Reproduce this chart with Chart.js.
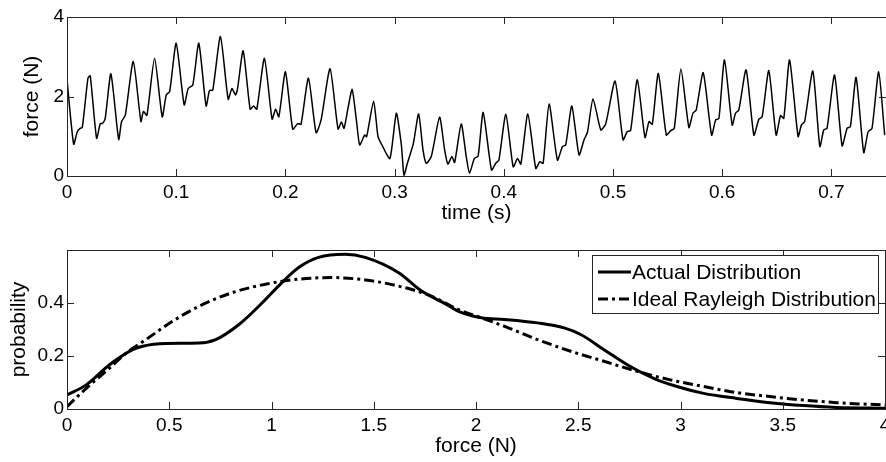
<!DOCTYPE html>
<html lang="en">
<head>
<meta charset="UTF-8">
<title>force signal and distribution</title>
<script src="https://cdn.jsdelivr.net/npm/chart.js"></script>
<style>
    html, body { margin: 0; padding: 0; background: #fff; overflow: hidden; }
    canvas { display: block; }
</style>
</head>
<body>
<canvas id="grafTempo" width="886" height="232"></canvas>
<canvas id="grafDist" width="886" height="230"></canvas>

<script>
// top plot: force over time (peaks/troughs/shoulders)
var timeS = [0, 0.0061, 0.0095, 0.012, 0.014, 0.0192, 0.0213, 0.0271, 0.0305, 0.0325, 0.035, 0.0402,
    0.0473, 0.050, 0.0534, 0.0607, 0.0677, 0.070, 0.0732, 0.0802, 0.0872, 0.0909, 0.094, 0.100,
    0.1073, 0.111, 0.1152, 0.1207, 0.1274, 0.1305, 0.1335, 0.1405, 0.1476, 0.151, 0.1543, 0.1562, 0.1613,
    0.1677, 0.1708, 0.1738, 0.1808, 0.1878, 0.191, 0.194, 0.200, 0.2067, 0.2113, 0.2143, 0.2211,
    0.2281, 0.2327, 0.2409, 0.2482, 0.2513, 0.2537, 0.2573, 0.2611, 0.265, 0.268, 0.2726, 0.2744, 0.2808,
    0.2848, 0.2884, 0.2957, 0.3016, 0.3062, 0.3086, 0.3117, 0.3172, 0.322, 0.326, 0.329, 0.3336, 0.3412,
    0.3458, 0.3488, 0.3525, 0.355, 0.361, 0.3656, 0.3686, 0.373, 0.3765, 0.3811, 0.3887, 0.3926, 0.3955,
    0.4019, 0.4086, 0.4126, 0.4156, 0.422, 0.4293, 0.433, 0.436, 0.4415, 0.4491, 0.4537, 0.4567, 0.4623,
    0.4689, 0.4735, 0.4766, 0.4817, 0.4888, 0.4933, 0.5019, 0.5092, 0.5131, 0.5161, 0.5223, 0.5293,
    0.533, 0.536, 0.5415, 0.5488, 0.5528, 0.5561, 0.5622, 0.5695, 0.5732, 0.5762, 0.5826, 0.5903,
    0.594, 0.597, 0.6021, 0.6091, 0.6122, 0.6152, 0.6219, 0.629, 0.6336, 0.6366, 0.6427, 0.6494,
    0.6534, 0.6564, 0.6617, 0.6695, 0.6725, 0.6755, 0.683, 0.6894, 0.693, 0.696, 0.7029, 0.7098,
    0.7144, 0.7174, 0.7226, 0.7296, 0.7336, 0.7372, 0.7433, 0.7488]
var forceN = [2.42, 0.80, 1.12, 1.20, 1.22, 2.46, 2.52, 0.95, 1.32, 1.32, 1.45, 2.57,
    0.92, 1.37, 1.53, 2.88, 1.37, 1.62, 1.53, 2.96, 1.49, 2.04, 2.12, 3.34,
    1.79, 2.20, 2.29, 3.34, 1.76, 2.15, 2.16, 3.51, 1.93, 2.20, 2.04, 2.20, 3.15,
    1.68, 1.76, 1.68, 2.96, 1.43, 1.68, 1.49, 2.62, 1.18, 1.32, 1.30, 2.46,
    1.09, 1.41, 2.70, 1.18, 1.36, 1.20, 1.70, 2.18, 1.41, 0.78, 1.03, 0.99, 1.88,
    0.99, 0.78, 0.44, 1.58, 0.78, 0.02, 0.32, 0.82, 1.56, 0.66, 0.32, 0.49, 1.48,
    0.66, 0.30, 0.49, 0.34, 1.31, 0.49, 0.07, 0.44, 0.50, 1.60, 0.15, 0.32, 0.40,
    1.55, 0.23, 0.44, 0.30, 1.56, 0.19, 0.36, 0.32, 1.81, 0.40, 0.74, 0.78, 1.76,
    0.53, 0.91, 1.10, 1.94, 1.16, 1.31, 2.39, 0.91, 1.12, 1.14, 2.42, 0.97,
    1.37, 1.30, 2.58, 1.03, 1.14, 1.20, 2.69, 1.22, 1.58, 1.66, 2.60, 1.03,
    1.41, 1.45, 2.92, 1.28, 1.58, 1.66, 2.67, 1.03, 1.43, 1.49, 2.65, 1.03,
    1.52, 1.45, 2.92, 0.99, 1.28, 1.37, 2.64, 0.74, 1.16, 1.20, 2.54, 0.76,
    1.20, 1.24, 2.48, 0.59, 1.11, 1.20, 2.62, 1.03]
var timeTicks = [0, 0.1, 0.2, 0.3, 0.4, 0.5, 0.6, 0.7]
var forceTicks = [0, 2, 4]

// bottom plot: distributions
var actualX = [0, 0.094, 0.208, 0.321, 0.37, 0.484, 0.646, 0.727, 0.841, 0.955, 1.052, 1.133, 1.23,
    1.36, 1.458, 1.62, 1.734, 1.855, 1.912, 2.026, 2.14, 2.301, 2.431, 2.512, 2.626, 2.74, 2.869,
    2.983, 3.113, 3.275, 3.437, 3.6, 3.762, 4.0]
var actualP = [0.053, 0.091, 0.167, 0.224, 0.237, 0.247, 0.249, 0.262, 0.319, 0.401, 0.478, 0.534, 0.572,
    0.584, 0.572, 0.515, 0.445, 0.395, 0.369, 0.344, 0.338, 0.325, 0.306, 0.281, 0.224, 0.167, 0.116,
    0.085, 0.059, 0.040, 0.024, 0.013, 0.006, 0.003]
var rayX = [0, 0.094, 0.208, 0.289, 0.386, 0.516, 0.646, 0.808, 0.971, 1.133, 1.295, 1.458, 1.62,
    1.782, 1.912, 2.026, 2.14, 2.301, 2.463, 2.626, 2.788, 2.95, 3.113, 3.275, 3.437, 3.6, 3.762, 4.0]
var rayP = [0.009, 0.078, 0.154, 0.211, 0.262, 0.331, 0.388, 0.439, 0.471, 0.490, 0.496, 0.487, 0.464,
    0.426, 0.376, 0.344, 0.312, 0.262, 0.218, 0.180, 0.142, 0.110, 0.085, 0.062, 0.047, 0.034, 0.024, 0.015]
var forceBinTicks = [0, 0.5, 1, 1.5, 2, 2.5, 3, 3.5, 4]
var probTicks = [0, 0.2, 0.4]
var nomesSeries = ['Actual Distribution', 'Ideal Rayleigh Distribution']

var fonte = 'Arial, "Liberation Sans", sans-serif'
Chart.defaults.color = '#000'
Chart.defaults.font.family = fonte

function juntar(xs, ys) {
    var pts = []
    for (var i = 0; i < xs.length; i++) {
        pts.push({ x: xs[i], y: ys[i] })
    }
    return pts
}

function fixarTicks(lista) {
    return function (scale) {
        scale.ticks = lista.map(function (v) { return { value: v } })
    }
}

// box around plot + inward tick marks like matlab
var caixaPlugin = {
    id: 'caixa',
    afterDatasetsDraw: function (chart) {
        var ctx = chart.ctx
        var a = chart.chartArea
        var tam = 7
        ctx.save()
        ctx.strokeStyle = '#262626'
        ctx.lineWidth = 1
        ctx.beginPath()
        chart.scales.x.ticks.forEach(function (t) {
            var px = Math.round(chart.scales.x.getPixelForValue(t.value)) + 0.5
            ctx.moveTo(px, a.bottom); ctx.lineTo(px, a.bottom - tam)
            ctx.moveTo(px, a.top); ctx.lineTo(px, a.top + tam)
        })
        chart.scales.y.ticks.forEach(function (t) {
            var py = Math.round(chart.scales.y.getPixelForValue(t.value)) + 0.5
            ctx.moveTo(a.left, py); ctx.lineTo(a.left + tam, py)
            ctx.moveTo(a.right, py); ctx.lineTo(a.right - tam, py)
        })
        ctx.stroke()
        ctx.strokeRect(Math.round(a.left) + 0.5, Math.round(a.top) + 0.5,
            Math.round(a.right - a.left), Math.round(a.bottom - a.top))
        ctx.restore()
    }
}

var legendaPlugin = {
    id: 'legendaDentro',
    afterDraw: function (chart) {
        var ctx = chart.ctx
        var a = chart.chartArea
        var w = 286, h = 58
        var x0 = a.right - 7 - w, y0 = a.top + 5
        ctx.save()
        ctx.fillStyle = '#fff'
        ctx.fillRect(x0, y0, w, h)
        ctx.strokeStyle = '#262626'
        ctx.lineWidth = 1
        ctx.strokeRect(Math.round(x0) + 0.5, Math.round(y0) + 0.5, w, h)
        ctx.font = '21px ' + fonte
        ctx.textBaseline = 'middle'
        ctx.fillStyle = '#000'
        chart.data.datasets.forEach(function (ds, i) {
            var yy = y0 + 17 + i * 27
            ctx.beginPath()
            ctx.setLineDash(ds.borderDash || [])
            ctx.lineWidth = ds.borderWidth
            ctx.strokeStyle = ds.borderColor
            ctx.moveTo(x0 + 6, yy)
            ctx.lineTo(x0 + 39, yy)
            ctx.stroke()
            ctx.setLineDash([])
            ctx.fillText(ds.label, x0 + 40, yy + 1)
        })
        ctx.restore()
    }
}

function eixoY(min, max, lista, titulo, padTitulo) {
    return {
        type: 'linear', min: min, max: max,
        afterBuildTicks: fixarTicks(lista),
        afterFit: function (s) { s.width = 67; s.paddingTop = 0; s.paddingBottom = 0 },
        grid: { display: false, drawTicks: false },
        border: { display: false },
        ticks: { padding: 3, font: { size: 19 }, callback: function (v) { return String(+v.toFixed(2)) } },
        title: { display: true, text: titulo, font: { size: 21 }, padding: { top: padTitulo, bottom: 0 } }
    }
}

function eixoX(min, max, lista, titulo, altura, padTitulo) {
    return {
        type: 'linear', min: min, max: max,
        afterBuildTicks: fixarTicks(lista),
        afterFit: function (s) { s.height = altura; s.paddingLeft = 0; s.paddingRight = 0 },
        grid: { display: false, drawTicks: false },
        border: { display: false },
        ticks: { padding: 5, maxRotation: 0, autoSkip: false, font: { size: 19 },
            callback: function (v) { return String(+v.toFixed(2)) } },
        title: { display: true, text: titulo, font: { size: 21 }, padding: { top: 0, bottom: padTitulo } }
    }
}

new Chart(document.getElementById('grafTempo'), {
    type: 'line',
    data: {
        datasets: [{
            label: 'force',
            data: juntar(timeS, forceN),
            borderColor: '#000',
            borderWidth: 1.5,
            pointRadius: 0,
            tension: 0.2,
            fill: false
        }]
    },
    options: {
        responsive: false,
        animation: false,
        layout: { padding: { top: 17, right: 0, left: 0, bottom: 0 } },
        plugins: { legend: { display: false }, tooltip: { enabled: false } },
        scales: {
            x: eixoX(0, 0.75, timeTicks, 'time (s)', 56, 6),
            y: eixoY(0, 4, forceTicks, 'force (N)', 20)
        }
    },
    plugins: [caixaPlugin]
})

new Chart(document.getElementById('grafDist'), {
    type: 'line',
    data: {
        datasets: [{
            label: nomesSeries[0],
            data: juntar(actualX, actualP),
            borderColor: '#000',
            borderWidth: 3,
            pointRadius: 0,
            cubicInterpolationMode: 'monotone',
            fill: false
        }, {
            label: nomesSeries[1],
            data: juntar(rayX, rayP),
            borderColor: '#000',
            borderWidth: 3,
            borderDash: [10, 4, 3, 4],
            pointRadius: 0,
            cubicInterpolationMode: 'monotone',
            fill: false
        }]
    },
    options: {
        responsive: false,
        animation: false,
        layout: { padding: { top: 18, right: 1, left: 0, bottom: 0 } },
        plugins: { legend: { display: false }, tooltip: { enabled: false } },
        scales: {
            x: eixoX(0, 4, forceBinTicks, 'force (N)', 53, 3),
            y: eixoY(0, 0.6, probTicks, 'probability', 7)
        }
    },
    plugins: [caixaPlugin, legendaPlugin]
})
</script>
</body>
</html>
